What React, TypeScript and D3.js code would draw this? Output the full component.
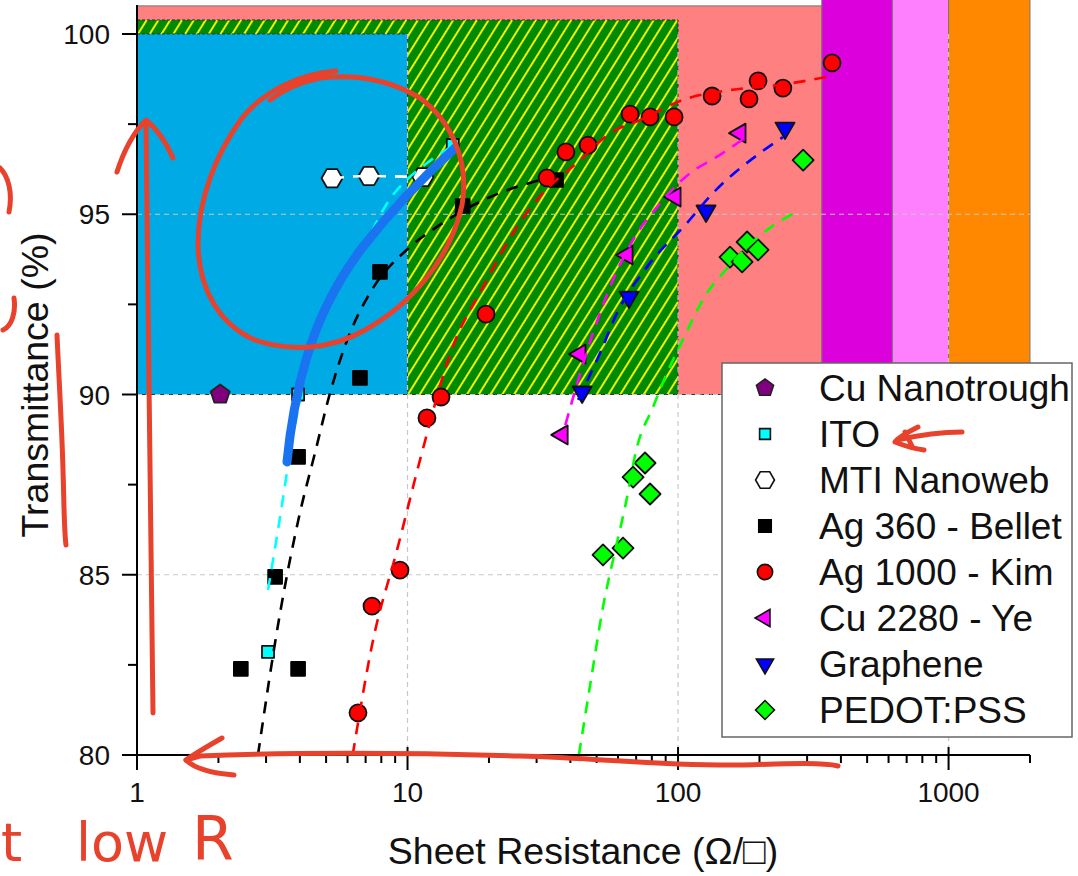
import React from "react";
import * as d3 from "d3";

// ---------- data (sheet resistance in ohm/sq, transmittance in %) ----------
const cuNanotroughR = [2.03];
const cuNanotroughT = [90.0];

const itoR = [3.05, 3.94, 14.7];
const itoT = [82.86, 90.0, 96.92];

const mtiR = [5.26, 7.2, 11.4];
const mtiT = [96.0, 96.06, 96.03];

const belletR = [2.42, 3.94, 3.24, 3.94, 6.67, 7.91, 16.0, 35.4];
const belletT = [82.39, 82.39, 84.94, 88.27, 90.46, 93.4, 95.23, 95.95];

const kimR = [6.56, 7.39, 9.38, 11.8, 13.3, 19.5, 32.8, 38.5, 46.5, 66.5, 78.8, 96.7, 133.6, 183, 197.6, 244, 371];
const kimT = [81.17, 84.13, 85.13, 89.35, 89.93, 92.23, 96.01, 96.73, 96.92, 97.78, 97.7, 97.7, 98.28, 98.2, 98.7, 98.5, 99.2];

const yeR = [37.3, 43.4, 64.8, 97.5, 169.5];
const yeT = [88.88, 91.12, 93.87, 95.48, 97.25];

const grapheneR = [44.2, 65.9, 126.9, 248.6];
const grapheneT = [90.07, 92.7, 95.09, 97.39];

const pedotR = [52.8, 62.6, 68.2, 75.5, 78.8, 155.7, 172.5, 180, 197.6, 290];
const pedotT = [85.55, 85.74, 87.71, 88.1, 87.24, 93.81, 93.68, 94.23, 94.01, 96.5];

// fit curves
const itoFitR = [3.05, 3.38, 3.68, 4.0, 4.3, 4.9, 6.9, 8.4, 11.8, 14.3];
const itoFitT = [84.58, 86.6, 88.38, 89.85, 90.9, 92.2, 94.1, 95.3, 96.42, 96.84];
const mtiFitR = [5.26, 7.2, 11.4];
const mtiFitT = [96.0, 96.06, 96.03];
const belletFitR = [2.8, 3.38, 4.0, 4.55, 5.17, 6.13, 7.27, 10.2, 12.85, 20.2, 30.9];
const belletFitT = [80, 83.94, 86.71, 88.38, 90.04, 91.71, 92.82, 94.09, 94.65, 95.48, 95.95];
const kimFitR = [6.27, 7.46, 9.15, 11.3, 14.4, 19.0, 25.4, 30.1, 43.4, 56.1, 72.4, 104, 158, 240, 365];
const kimFitT = [80, 83.19, 85.69, 88.38, 91.15, 92.98, 94.65, 95.4, 96.5, 97.25, 97.61, 98.17, 98.45, 98.59, 98.83];
const yeFitR = [38.3, 48.5, 57.5, 68.2, 83.6, 110.7, 139, 177];
const yeFitT = [89.15, 91.71, 93.18, 94.29, 95.2, 96.14, 96.59, 97.12];
const grapheneFitR = [42.7, 51.5, 59.5, 76.8, 108, 134.7, 201, 244];
const grapheneFitT = [89.85, 91.15, 92.26, 93.54, 94.76, 95.59, 96.7, 97.14];
const pedotFitR = [43.0, 48.1, 52.8, 57.5, 63.7, 70.5, 80.8, 91.1, 104, 128, 146.7, 180, 213, 282.6];
const pedotFitT = [80, 82.27, 84.11, 85.41, 86.88, 88.54, 89.65, 90.6, 91.51, 92.82, 93.37, 94.09, 94.56, 95.12];

// target regions
const regionR0 = [1, 1, 1, 340, 620, 1000];
const regionR1 = [340, 100, 10, 620, 1000, 2000];
const regionT0 = [90, 90, 90, 90, 90, 90];
const regionT1 = [100.78, 100.39, 100, 101.2, 101.2, 101.2];
const regionFill = ["#ff8080", "url(#hatch)", "#00aae4", "#dc00dc", "#ff80ff", "#ff8800"];

const xTickValues = [1, 10, 100, 1000];
const xTickLabels = ["1", "10", "100", "1000"];
const yTickValues = [80, 85, 90, 95, 100];
const yTickLabels = ["80", "85", "90", "95", "100"];
const yMinorTicks = [82.5, 87.5, 92.5, 97.5];
const xGrid = [10, 100, 1000];
const yGrid = [85, 90, 95];

const legendLabels = ["Cu Nanotrough", "ITO", "MTI Nanoweb", "Ag 360 - Bellet", "Ag 1000 - Kim", "Cu 2280 - Ye", "Graphene", "PEDOT:PSS"];

const FONT = "'Liberation Sans', Arial, Helvetica, sans-serif";
const RED = "#e8412c";

// ---------- symbols ----------
function polygon(n: number, r: number, rot: number) {
  const pts: string[] = [];
  for (let i = 0; i < n; i++) {
    const a = rot + (i * 2 * Math.PI) / n;
    pts.push(`${(r * Math.cos(a)).toFixed(2)},${(r * Math.sin(a)).toFixed(2)}`);
  }
  return "M" + pts.join("L") + "Z";
}
const shapes: Record<string, (s: number) => string> = {
  pentagon: (s) => polygon(5, s * 1.0, -Math.PI / 2),
  square: (s) => polygon(4, s * 0.98, Math.PI / 4),
  squareSm: (s) => polygon(4, s * 0.85, Math.PI / 4),
  hexagon: (s) => polygon(6, s * 1.05, 0),
  circle: (s) => d3.symbol().type(d3.symbolCircle).size(Math.PI * (s * 0.85) * (s * 0.85))() as string,
  triLeft: (s) => polygon(3, s * 1.1, Math.PI),
  triDown: (s) => polygon(3, s * 1.1, Math.PI / 2),
  diamond: (s) => polygon(4, s * 1.05, 0),
};

type Series = { R: number[]; T: number[]; shape: string; fill: string; stroke: string };
const series: Series[] = [
  { R: cuNanotroughR, T: cuNanotroughT, shape: "pentagon", fill: "#800080", stroke: "#222" },
  { R: itoR, T: itoT, shape: "squareSm", fill: "#00ffff", stroke: "#111" },
  { R: mtiR, T: mtiT, shape: "hexagon", fill: "#ffffff", stroke: "#111" },
  { R: belletR, T: belletT, shape: "square", fill: "#000000", stroke: "#000" },
  { R: kimR, T: kimT, shape: "circle", fill: "#ff0000", stroke: "#111" },
  { R: yeR, T: yeT, shape: "triLeft", fill: "#ff00ff", stroke: "#111" },
  { R: grapheneR, T: grapheneT, shape: "triDown", fill: "#0000ff", stroke: "#111" },
  { R: pedotR, T: pedotT, shape: "diamond", fill: "#00ff00", stroke: "#111" },
];
const fits = [
  { R: itoFitR, T: itoFitT, color: "#00ffff" },
  { R: mtiFitR, T: mtiFitT, color: "#ffffff" },
  { R: belletFitR, T: belletFitT, color: "#000000" },
  { R: kimFitR, T: kimFitT, color: "#ff0000" },
  { R: yeFitR, T: yeFitT, color: "#ff00ff" },
  { R: grapheneFitR, T: grapheneFitT, color: "#0000ff" },
  { R: pedotFitR, T: pedotFitT, color: "#00ff00" },
];

export default function App() {
  const W = 1078, H = 876;
  const x = d3.scaleLog().domain([1, 2000]).range([137, 1030]);
  const y = d3.scaleLinear().domain([80, 100]).range([755, 34]);
  const line = d3
    .line<[number, number]>()
    .x((d) => x(d[0]))
    .y((d) => y(d[1]))
    .curve(d3.curveMonotoneX);

  const xMinor: number[] = [];
  [1, 10, 100, 1000].forEach((dec) => {
    for (let k = 2; k <= 9; k++) if (dec * k <= 2000) xMinor.push(dec * k);
  });

  const lx = 722, ly = 363, lw = 350, lh = 374;

  return (
    <svg width={W} height={H} style={{ position: "absolute", left: 0, top: 0, background: "#fff" }} fontFamily={FONT}>
      <defs>
        <pattern id="hatch" patternUnits="userSpaceOnUse" width="10" height="10" patternTransform="rotate(32)">
          <rect width="10" height="10" fill="#008a00" />
          <line x1="5" y1="-1" x2="5" y2="11" stroke="#f0f000" strokeWidth="2" />
        </pattern>
        <clipPath id="plotclip">
          <rect x={137} y={0} width={900} height={756} />
        </clipPath>
      </defs>
      <rect x={0} y={0} width={W} height={H} fill="#fff" />

      {/* target regions */}
      <g clipPath="url(#plotclip)">
        {regionFill.map((f, i) => (
          <rect
            key={i}
            x={x(regionR0[i])}
            y={y(regionT1[i])}
            width={x(regionR1[i]) - x(regionR0[i])}
            height={y(regionT0[i]) - y(regionT1[i])}
            fill={f}
            stroke={i >= 3 ? "#777" : i === 0 ? "#777" : "#333"}
            strokeWidth={1}
            strokeDasharray={i === 1 || i === 2 ? "3,2" : undefined}
          />
        ))}
        <line x1={x(1)} x2={x(340)} y1={y(90)} y2={y(90)} stroke="#333" strokeDasharray="3,2" strokeWidth={1.2} />
      </g>

      {/* grid */}
      <g stroke="#c8c8c8" strokeWidth={1.2} strokeDasharray="5,4">
        {xGrid.map((v) => (
          <line key={"gx" + v} x1={x(v)} x2={x(v)} y1={y(100)} y2={y(80)} />
        ))}
        {yGrid.map((v) => (
          <line key={"gy" + v} x1={x(1)} x2={x(2000)} y1={y(v)} y2={y(v)} />
        ))}
      </g>

      {/* markers */}
      {series.map((s, si) =>
        s.R.map((r, i) => (
          <path
            key={si + "-" + i}
            d={shapes[s.shape](10)}
            transform={`translate(${x(r)},${y(s.T[i])})`}
            fill={s.fill}
            stroke={s.stroke}
            strokeWidth={1.8}
            strokeLinejoin="round"
          />
        ))
      )}

      {/* fit curves */}
      {fits.map((f, i) => (
        <path
          key={"fit" + i}
          d={line(f.R.map((r, j) => [r, f.T[j]] as [number, number])) || ""}
          fill="none"
          stroke={f.color}
          strokeWidth={2.6}
          strokeDasharray="12,9"
        />
      ))}

      {/* axes */}
      <g stroke="#000" strokeWidth={2}>
        <line x1={x(1)} x2={x(1)} y1={5} y2={y(80)} />
        <line x1={x(1)} x2={x(2000)} y1={y(80)} y2={y(80)} />
        {yTickValues.map((v) => (
          <line key={"yt" + v} x1={x(1) - 15} x2={x(1)} y1={y(v)} y2={y(v)} />
        ))}
        {yMinorTicks.map((v) => (
          <line key={"ym" + v} x1={x(1) - 9} x2={x(1)} y1={y(v)} y2={y(v)} />
        ))}
        {xTickValues.map((v) => (
          <line key={"xt" + v} x1={x(v)} x2={x(v)} y1={y(80) - 8} y2={y(80) + 15} />
        ))}
        {xMinor.map((v) => (
          <line key={"xm" + v} x1={x(v)} x2={x(v)} y1={y(80)} y2={y(80) + 8} />
        ))}
      </g>
      {yTickValues.map((v, i) => (
        <text key={"yl" + v} x={110} y={y(v) + 10} textAnchor="end" fontSize={28} fill="#111">
          {yTickLabels[i]}
        </text>
      ))}
      {xTickValues.map((v, i) => (
        <text key={"xl" + v} x={x(v)} y={802} textAnchor="middle" fontSize={28} fill="#111">
          {xTickLabels[i]}
        </text>
      ))}
      <text x={583} y={864} textAnchor="middle" fontSize={37.5} fill="#111">
        Sheet Resistance (Ω/□)
      </text>
      <text transform="translate(48,385) rotate(-90)" textAnchor="middle" fontSize={37.5} fill="#111">
        Transmittance (%)
      </text>

      {/* legend */}
      <rect x={lx} y={ly} width={lw} height={lh} fill="#fff" stroke="#666" strokeWidth={1.5} />
      {legendLabels.map((lab, i) => {
        const cy = ly + 25 + i * 46;
        const s = series[i];
        return (
          <g key={"lg" + i}>
            <path d={shapes[s.shape](9)} transform={`translate(${lx + 43},${cy})`} fill={s.fill} stroke={s.stroke} strokeWidth={1.6} />
            <text x={lx + 97} y={cy + 12.5} fontSize={37} fill="#111">
              {lab}
            </text>
          </g>
        );
      })}

      {/* hand-drawn annotations */}
      <g fill="none" strokeLinecap="round" strokeLinejoin="round">
        <path
          d="M287,462 C290,430 296,395 306,360 C318,318 338,280 362,248 C390,212 420,180 455,148"
          stroke="#1a73f0"
          strokeWidth={9}
        />
        <g stroke={RED} strokeWidth={5}>
          <path d="M336,71 C300,74 265,90 242,118 C215,155 198,200 198,245 C199,290 220,325 255,340 C290,352 330,350 365,330 C410,305 450,260 462,205 C470,160 450,120 420,98 C390,80 355,74 320,78 C300,82 283,90 270,100" />
          <path d="M153,713 C152,600 149,450 148,300 C147,220 146,160 146,122" />
          <path d="M117,172 C124,150 134,132 146,120 C156,128 166,142 173,158" />
          <path d="M838,766 C820,762 780,764 740,765 C660,766 600,758 520,756 C420,753 300,752 200,756 L186,760" />
          <path d="M222,738 C208,746 196,753 186,760 C194,768 210,773 234,775" />
          <path d="M962,432 C940,432 915,436 897,440" />
          <path d="M918,427 C906,433 898,438 895,442 C905,446 915,449 924,450 M905,432 L912,446" />
          <path d="M0,168 C8,176 13,192 9,212" />
          <path d="M14,298 C16,312 12,326 3,330" />
          <path d="M57,335 C59,380 62,430 63,470 C64,500 64,530 66,545" />
        </g>
        <text x={1} y={861} fontSize={54} fill={RED} fontFamily="'DejaVu Sans', sans-serif">
          t
        </text>
        <text x={76} y={861} fontSize={54} fill={RED} fontFamily="'DejaVu Sans', sans-serif">
          low
        </text>
        <text x={192} y={860} fontSize={60} fill={RED} fontFamily="'DejaVu Sans', sans-serif">
          R
        </text>
      </g>
    </svg>
  );
}
